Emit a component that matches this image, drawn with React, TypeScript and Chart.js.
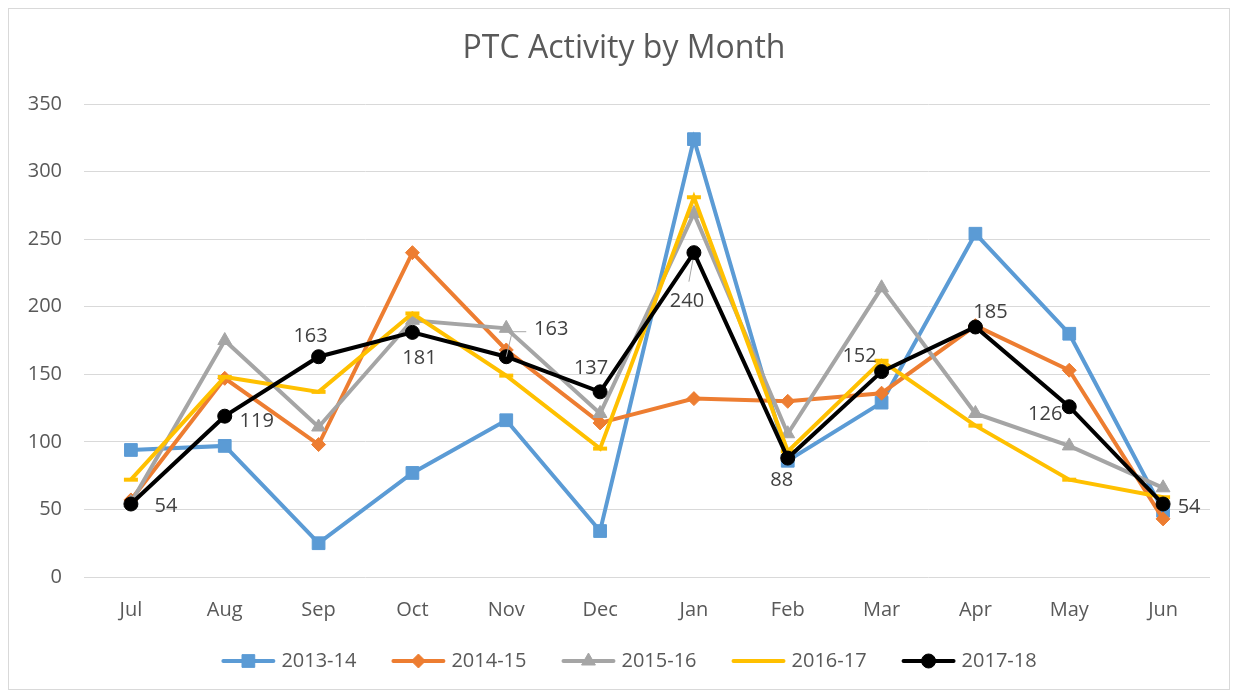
import React, { useEffect, useRef } from "react";
import { Chart, registerables } from "chart.js";
import { drawPoint } from "chart.js/helpers";

Chart.register(...registerables);

const months = ["Jul", "Aug", "Sep", "Oct", "Nov", "Dec", "Jan", "Feb", "Mar", "Apr", "May", "Jun"];
const s2013_14 = [94, 97, 25, 77, 116, 34, 324, 86, 129, 254, 180, 49];
const s2014_15 = [57, 147, 98, 240, 168, 114, 132, 130, 136, 186, 153, 43];
const s2015_16 = [55, 175, 111, 190, 184, 121, 269, 106, 214, 121, 97, 66];
const s2016_17 = [72, 148, 137, 195, 149, 95, 281, 93, 160, 112, 72, 59];
const s2017_18 = [54, 119, 163, 181, 163, 137, 240, 88, 152, 185, 126, 54];
const seriesNames = ["2013-14", "2014-15", "2015-16", "2016-17", "2017-18"];
const yTicks = [0, 50, 100, 150, 200, 250, 300, 350];

// label placement of the 2017-18 data labels (offset from the point, px)
const labelOffsets: [number, number][] = [
  [35, 2], [32, 5], [-8, -20], [7, 26], [45, -27], [-9, -24],
  [-7, 49], [-6, 22], [-22, -15], [15, -15], [-24, 8], [26, 3],
];
const leaderIdx = [4, 6];

const FONT = "'Open Sans', 'Noto Sans', sans-serif";
const TEXT = "#595959";

export default function App() {
  const ref = useRef<HTMLCanvasElement | null>(null);

  useEffect(() => {
    if (!ref.current) return;
    const colors = ["#5B9BD5", "#ED7D31", "#A5A5A5", "#FFC000", "#000000"];
    const styles = ["rect", "rectRot", "triangle", "line", "circle"];
    const radii = [9, 7, 8, 7, 7];
    const all = [s2013_14, s2014_15, s2015_16, s2016_17, s2017_18];

    const datasets = all.map((d, i) => ({
      label: seriesNames[i],
      data: d,
      borderColor: colors[i],
      backgroundColor: colors[i],
      borderWidth: 4,
      pointStyle: styles[i],
      pointRadius: radii[i],
      pointBorderWidth: i === 3 ? 4 : 1,
      pointBackgroundColor: colors[i],
      pointBorderColor: colors[i],
      tension: 0,
      order: 5 - i,
    }));

    const titlePlugin = {
      id: "titleDraw",
      afterDraw(chart: any) {
        const ctx = chart.ctx;
        ctx.save();
        ctx.fillStyle = TEXT;
        ctx.font = `32px ${FONT}`;
        ctx.textAlign = "center";
        ctx.textBaseline = "middle";
        ctx.fillText("PTC Activity by Month", 615, 40);
        ctx.restore();
      },
    };

    const labelPlugin = {
      id: "dataLabels",
      afterDatasetsDraw(chart: any) {
        const ctx = chart.ctx;
        const meta = chart.getDatasetMeta(4);
        ctx.save();
        meta.data.forEach((pt: any, i: number) => {
          const [dx, dy] = labelOffsets[i];
          const lx = pt.x + dx;
          const ly = pt.y + dy;
          if (leaderIdx.includes(i)) {
            ctx.strokeStyle = "#A6A6A6";
            ctx.lineWidth = 1;
            ctx.beginPath();
            if (i === 4) {
              ctx.moveTo(pt.x, pt.y);
              ctx.lineTo(pt.x + 6, ly + 2);
              ctx.lineTo(lx - 25, ly + 2);
            } else {
              ctx.moveTo(pt.x - 1, pt.y + 7);
              ctx.lineTo(pt.x - 5, ly - 20);
            }
            ctx.stroke();
          }
          ctx.fillStyle = "#404040";
          ctx.font = `20px ${FONT}`;
          ctx.textAlign = "center";
          ctx.textBaseline = "middle";
          ctx.fillText(String(s2017_18[i]), lx, ly);
        });
        ctx.restore();
      },
    };

    const legendPlugin = {
      id: "legendDraw",
      afterDraw(chart: any) {
        const ctx = chart.ctx;
        ctx.save();
        ctx.font = `20px ${FONT}`;
        const lineW = 54;
        const gap = 6;
        const spacing = 35;
        const widths = seriesNames.map((n) => ctx.measureText(n).width);
        const total = widths.reduce((a, w) => a + lineW + gap + w, 0) + spacing * (seriesNames.length - 1);
        let x = 620 - total / 2;
        const y = 652;
        seriesNames.forEach((n, i) => {
          ctx.strokeStyle = colors[i];
          ctx.lineWidth = 4;
          ctx.lineCap = "round";
          ctx.beginPath();
          ctx.moveTo(x + 2, y);
          ctx.lineTo(x + lineW - 2, y);
          ctx.stroke();
          ctx.lineCap = "butt";
          if (styles[i] !== "line") {
            ctx.fillStyle = colors[i];
            ctx.strokeStyle = colors[i];
            ctx.lineWidth = 1;
            drawPoint(ctx, { pointStyle: styles[i] as any, radius: radii[i], rotation: 0, borderWidth: 1 } as any, x + lineW / 2, y);
          }
          ctx.fillStyle = TEXT;
          ctx.textAlign = "left";
          ctx.textBaseline = "middle";
          ctx.fillText(n, x + lineW + gap, y);
          x += lineW + gap + widths[i] + spacing;
        });
        ctx.restore();
      },
    };

    const chart = new Chart(ref.current, {
      type: "line",
      data: { labels: months, datasets: datasets as any },
      options: {
        animation: false,
        responsive: false,
        layout: { padding: { top: 95, right: 19, left: 0, bottom: 0 } },
        plugins: {
          legend: { display: false },
          title: { display: false },
          tooltip: { enabled: false },
        },
        scales: {
          x: {
            offset: true,
            grid: { display: false, drawTicks: false },
            border: { display: false },
            ticks: { color: TEXT, font: { family: FONT, size: 20 }, padding: 21 },
            afterFit: (s: any) => { s.height = 112; },
          },
          y: {
            min: 0,
            max: 350,
            grid: { color: "#D9D9D9", lineWidth: 1, drawTicks: false },
            border: { display: false },
            afterBuildTicks: (s: any) => { s.ticks = yTicks.map((v) => ({ value: v })); },
            ticks: { color: TEXT, font: { family: FONT, size: 20 }, padding: 22 },
            afterFit: (s: any) => { s.width = 75; },
          },
        },
      },
      plugins: [titlePlugin, labelPlugin, legendPlugin],
    });
    return () => chart.destroy();
  }, []);

  return (
    <div style={{ width: 1222, height: 682, border: "1px solid #D9D9D9", boxSizing: "border-box", background: "#fff" }}>
      <canvas ref={ref} width={1220} height={680} style={{ display: "block" }} />
    </div>
  );
}
